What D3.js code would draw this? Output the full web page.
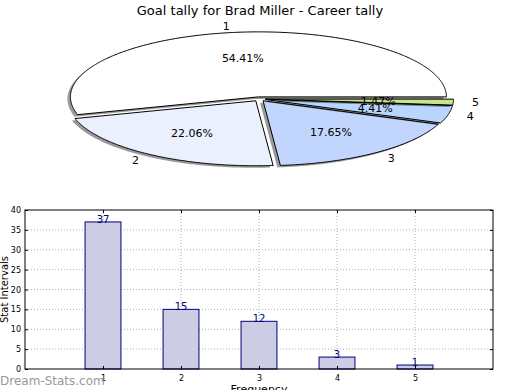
<!DOCTYPE html>
<html><head><meta charset="utf-8">
<script src="https://cdn.jsdelivr.net/npm/d3@7"></script>
<style>body{margin:0;background:#fff}svg{display:block;font-family:"DejaVu Sans",sans-serif}</style>
</head><body><svg id="c" width="520" height="390"></svg>
<script>
const title = "Goal tally for Brad Miller - Career tally";
const categories = ["1","2","3","4","5"];
const values = [37,15,12,3,1];
const sliceColors = ["#ffffff","#eaf0fe","#c2d6fd","#b8d6fb","#c9e58a"];
const yTicks = [0,5,10,15,20,25,30,35,40];
const xLabel = "Frequency";
const yLabel = "Stat Intervals";
const watermark = "Dream-Stats.com";

const svg = d3.select("#c");
svg.append("text").attr("x",260).attr("y",15).attr("text-anchor","middle")
  .attr("font-size",13).text(title);

// ---- Pie (elliptical, exploded, shadowed) ----
const cx = 259.3, cy = 99, rx = 188, ry = 65, explode = 0.033;
const total = d3.sum(values);
const pie = d3.pie().sort(null).startAngle(0).endAngle(2*Math.PI)(values);
const line = d3.line();
const pg = svg.append("g");
pie.forEach((p,i)=>{
  const a0 = p.startAngle, a1 = p.endAngle, mid = (a0+a1)/2;
  const ox = cx + explode*rx*Math.cos(mid), oy = cy - explode*ry*Math.sin(mid);
  const n = Math.max(4, Math.ceil((a1-a0)/0.01));
  const pts = [[ox,oy]];
  d3.range(n+1).forEach(k=>{
    const t = a0 + (a1-a0)*k/n;
    pts.push([ox + rx*Math.cos(t), oy - ry*Math.sin(t)]);
  });
  pts.push([ox,oy]);
  pg.append("path").attr("d",line(pts)+"Z").attr("transform","translate(-3,2)")
    .attr("fill","#000").attr("fill-opacity",0.4).attr("stroke","none");
  pg.append("path").attr("d",line(pts)+"Z").attr("fill",sliceColors[i])
    .attr("stroke","#000").attr("stroke-width",1).attr("stroke-linejoin","round");
  p._o = [ox,oy,mid];
});
pie.forEach((p,i)=>{
  const [ox,oy,mid] = p._o;
  const c = Math.cos(mid), s = Math.sin(mid);
  svg.append("text").attr("x",ox+1.1*rx*c).attr("y",oy-1.1*ry*s)
    .attr("dy","0.35em").attr("text-anchor", c<0 ? "end":"start")
    .attr("font-size",11).text(categories[i]);
  svg.append("text").attr("x",ox+0.6*rx*c).attr("y",oy-0.6*ry*s)
    .attr("dy","0.35em").attr("text-anchor","middle")
    .attr("font-size",11).text((values[i]/total*100).toFixed(2)+"%");
});

// ---- Bar chart ----
const L=25, R=493, T=210, B=369;
const x = d3.scaleLinear().domain([0,6]).range([L,R]);
const y = d3.scaleLinear().domain([0,40]).range([B,T]);
const bg = svg.append("g");
// grid
bg.selectAll(".gy").data(yTicks.slice(1,-1)).enter().append("line")
  .attr("x1",L).attr("x2",R).attr("y1",d=>y(d)).attr("y2",d=>y(d))
  .attr("stroke","#b0b0b0").attr("stroke-dasharray","1,2");
bg.selectAll(".gx").data(categories).enter().append("line")
  .attr("x1",d=>x(+d)).attr("x2",d=>x(+d)).attr("y1",T).attr("y2",B)
  .attr("stroke","#b0b0b0").attr("stroke-dasharray","1,2");
const bw = 0.46;
bg.selectAll(".bar").data(values).enter().append("rect")
  .attr("x",(d,i)=>x(+categories[i]-bw/2)).attr("width",x(bw)-x(0))
  .attr("y",d=>y(d)).attr("height",d=>y(0)-y(d))
  .attr("fill","#ccccE4").attr("stroke","#000080").attr("stroke-width",1);
bg.selectAll(".vl").data(values).enter().append("text")
  .attr("x",(d,i)=>x(+categories[i])).attr("y",d=>y(d)+1)
  .attr("text-anchor","middle").attr("font-size",10).attr("fill","#000080")
  .text(d=>d);
// axes with inward ticks
const yl = d3.axisLeft(y).tickValues(yTicks).tickSizeInner(-3).tickSizeOuter(0).tickPadding(4);
const yr = d3.axisRight(y).tickValues(yTicks).tickSizeInner(-3).tickSizeOuter(0).tickFormat("");
const xb = d3.axisBottom(x).tickValues(categories.map(Number)).tickSizeInner(-3).tickSizeOuter(0).tickPadding(6).tickFormat(d3.format("d"));
const xt = d3.axisTop(x).tickValues(categories.map(Number)).tickSizeInner(-3).tickSizeOuter(0).tickFormat("");
bg.append("g").attr("transform",`translate(${L},0)`).call(yl);
bg.append("g").attr("transform",`translate(${R},0)`).call(yr);
bg.append("g").attr("transform",`translate(0,${B})`).call(xb);
bg.append("g").attr("transform",`translate(0,${T})`).call(xt);
bg.selectAll(".domain").remove();
bg.selectAll(".tick text").attr("font-size",8).attr("font-family","DejaVu Sans").attr("fill","#000");
bg.selectAll(".tick line").attr("stroke","#000");
bg.append("rect").attr("x",L).attr("y",T).attr("width",R-L).attr("height",B-T)
  .attr("fill","none").attr("stroke","#000").attr("stroke-width",1);
svg.append("text").attr("transform",`translate(4.5,${(T+B)/2}) rotate(-90)`)
  .attr("text-anchor","middle").attr("dy","0.35em").attr("font-size",10).text(yLabel);
svg.append("text").attr("x",259).attr("y",393).attr("text-anchor","middle")
  .attr("font-size",11).text(xLabel);
svg.append("text").attr("x",0).attr("y",385).attr("font-size",12)
  .attr("fill","#999").text(watermark);
</script></body></html>
